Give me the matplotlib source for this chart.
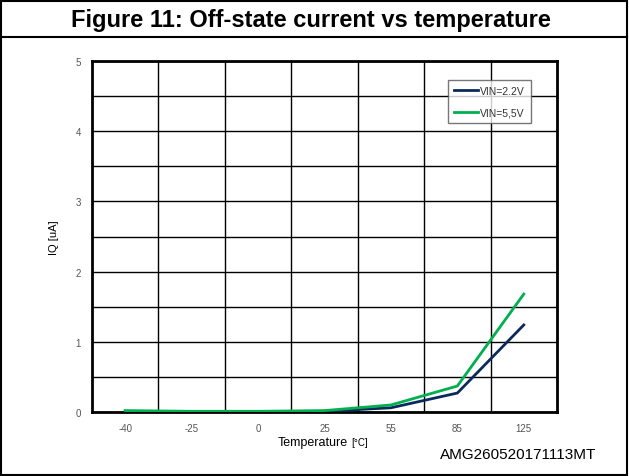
import numpy as np
import matplotlib
matplotlib.use('Agg')
import matplotlib.pyplot as plt
from matplotlib.patches import Rectangle
from matplotlib.lines import Line2D

plt.rcParams['font.family'] = ['Liberation Sans', 'DejaVu Sans']

# Data
temperatures = ['-40', '-25', '0', '25', '55', '85', '125']
iq_vin_2v2 = [0.01, 0.0, 0.0, 0.01, 0.06, 0.27, 1.24]
iq_vin_5v5 = [0.02, 0.01, 0.01, 0.02, 0.10, 0.37, 1.68]
series_labels = ['VIN=2.2V', 'VIN=5,5V']
series_colors = ['#0b2a5c', '#00b04f']

W, H = 629, 477
fig = plt.figure(figsize=(W / 100, H / 100), dpi=100)

# outer frame and title rule
fig.add_artist(Rectangle((1 / W, 1 / H), (W - 3) / W, (H - 3) / H, transform=fig.transFigure,
                         fill=False, edgecolor='black', linewidth=1.5))
fig.add_artist(Line2D([1 / W, (W - 2) / W], [1 - 38 / H, 1 - 38 / H], transform=fig.transFigure,
                      color='black', linewidth=1.5))
fig.text(0.495, 1 - 20 / H, 'Figure 11: Off-state current vs temperature', ha='center', va='center',
         fontsize=17, fontweight='bold')

# plot area: x 92..557, y 62..413
ax = fig.add_axes([92 / W, 1 - 413 / H, (557 - 92) / W, (413 - 62) / H])
x = np.arange(len(temperatures))
ax.plot(x, iq_vin_2v2, color=series_colors[0], linewidth=2, label=series_labels[0], zorder=3)
ax.plot(x, iq_vin_5v5, color=series_colors[1], linewidth=2, label=series_labels[1], zorder=3)

ax.set_xlim(-0.5, len(temperatures) - 0.5)
ax.set_ylim(0, 5)
ax.set_xticks(x)
ax.set_xticklabels(temperatures)
ax.set_yticks(np.arange(0, 6, 1))
ax.set_xticks(np.arange(0.5, len(temperatures) - 1, 1), minor=True)
ax.set_yticks(np.arange(0.5, 5, 0.5), minor=True)
ax.grid(which='minor', axis='x', color='black', linewidth=1)
ax.grid(which='minor', axis='y', color='black', linewidth=1)
ax.grid(which='major', axis='y', color='black', linewidth=1)
ax.tick_params(which='both', length=0)
ax.tick_params(axis='both', labelsize=7, labelcolor='#555555', pad=8)
ax.tick_params(axis='y', pad=8)
for s in ax.spines.values():
    s.set_linewidth(2)
ax.set_axisbelow(True)

ax.set_ylabel('IQ [uA]', fontsize=8, labelpad=12)

# x label: "Temperature" with a smaller unit
fig.text(348 / W, 1 - 443 / H, 'Temperature', ha='right', va='center', fontsize=9)
fig.text(351 / W, 1 - 443 / H, '[°C]', ha='left', va='center', fontsize=7)

leg = ax.legend(loc='upper left', bbox_to_anchor=((448 - 92) / 465, (413 - 81) / 351),
                borderaxespad=0, fontsize=7.5, frameon=True, fancybox=False, edgecolor='#555555',
                handlelength=2.3, handletextpad=0.25, labelspacing=1.1, borderpad=0.55)
leg.get_frame().set_linewidth(1)
for t in leg.get_texts():
    t.set_color('#333333')

fig.text(440 / W, 1 - 455 / H, 'AMG260520171113MT', ha='left', va='center', fontsize=11)

fig.savefig('out.png', dpi=100)
